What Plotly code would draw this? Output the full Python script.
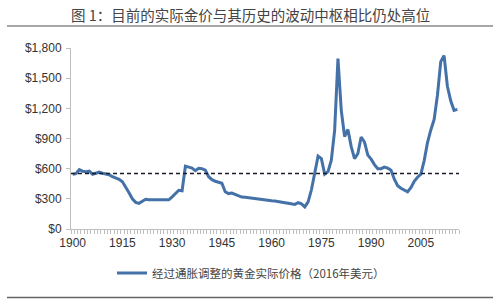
import plotly.graph_objects as go

years = list(range(1900, 2017))
real_price = [
    545, 550, 590, 575, 570, 575, 545, 555, 565, 555,   # 1900-1909
    545, 540, 520, 505, 495, 470, 420, 360, 300, 265,   # 1910-1919
    255, 275, 295, 290, 290, 285, 285, 285, 285, 290,   # 1920-1929
    320, 355, 385, 380, 625, 615, 605, 580, 603, 600,   # 1930-1939
    585, 520, 490, 475, 465, 455, 370, 352, 358, 345,   # 1940-1949
    325, 318, 315, 310, 305, 300, 295, 290, 288, 283,   # 1950-1959
    280, 278, 275, 270, 262, 257, 250, 245, 262, 250,   # 1960-1969
    220, 270, 390, 555, 725, 700, 545, 570, 685, 980,   # 1970-1979
    1695, 1180, 920, 990, 820, 700, 750, 915, 865, 735,  # 1980-1989
    695, 640, 600, 600, 615, 605, 585, 495, 430, 405,   # 1990-1999
    385, 370, 410, 475, 515, 545, 680, 860, 985, 1090,  # 2000-2009
    1330, 1665, 1725, 1420, 1275, 1180, 1190            # 2010-2016
]
pivot_value = 553
year_ticks = [1900, 1915, 1930, 1945, 1960, 1975, 1990, 2005]
y_ticks = [0, 300, 600, 900, 1200, 1500, 1800]
y_tick_text = ["$0", "$300", "$600", "$900", "$1,200", "$1,500", "$1,800"]

title_text = "图 1：目前的实际金价与其历史的波动中枢相比仍处高位"
series_name = "经过通胀调整的黄金实际价格（2016年美元）"

W, H = 500, 299
L, R, T, B = 71, 41, 48, 70
PW, PH = W - L - R, H - T - B


def px(x):
    return (x - L) / PW


def py(y):
    return (H - B - y) / PH


fig = go.Figure()
fig.add_trace(go.Scatter(
    x=years, y=real_price, mode="lines", name=series_name,
    line=dict(color="#4472a8", width=3), showlegend=True,
))
fig.add_trace(go.Scatter(
    x=[years[0] - 0.5, years[-1] + 0.5], y=[pivot_value, pivot_value],
    mode="lines", line=dict(color="#1a1a2a", width=1.5, dash="4px,3px"),
    showlegend=False, hoverinfo="skip",
))

cjk = "Noto Sans CJK SC"
fig.update_layout(
    width=W, height=H,
    margin=dict(l=L, r=R, t=T, b=B, autoexpand=False),
    paper_bgcolor="white", plot_bgcolor="white",
    font=dict(family="Liberation Sans, " + cjk, size=12, color="#333333"),
    xaxis=dict(
        range=[years[0] - 0.5, years[-1] + 0.5], automargin=False,
        tickvals=year_ticks, ticks="", showgrid=False, zeroline=False,
        showline=True, linecolor="#bfbfbf", linewidth=1,
        ticklabelstandoff=3,
        tickfont=dict(size=12, color="#333333"),
        minor=dict(tick0=years[0] - 0.5, dtick=1, ticks="outside",
                   ticklen=4, tickcolor="#bfbfbf", tickwidth=1, showgrid=False),
    ),
    yaxis=dict(
        range=[0, 1800], tickvals=y_ticks, ticktext=y_tick_text, automargin=False,
        ticks="outside", ticklen=4, tickcolor="#bfbfbf",
        showgrid=False, zeroline=False,
        showline=True, linecolor="#bfbfbf", linewidth=1,
        ticklabelstandoff=2,
        tickfont=dict(size=12, color="#333333"),
    ),
    legend=dict(
        orientation="h", x=px(251), xanchor="center", y=py(273), yanchor="middle",
        font=dict(family=cjk, size=11.5, color="#444444"),
        bgcolor="rgba(0,0,0,0)",
    ),
    annotations=[dict(
        text=title_text, xref="paper", yref="paper",
        x=px(250), y=py(14),
        xanchor="center", yanchor="middle", showarrow=False,
        font=dict(family=cjk, size=14.5, color="#444444"),
    )],
    shapes=[
        dict(type="line", xref="paper", yref="paper",
             x0=px(7), x1=px(493), y0=py(26), y1=py(26),
             line=dict(color="#8a8a8a", width=1.5)),
        dict(type="line", xref="paper", yref="paper",
             x0=px(7), x1=px(493), y0=py(297.5), y1=py(297.5),
             line=dict(color="#666666", width=1.5)),
    ],
)

fig.write_html("out.html")
